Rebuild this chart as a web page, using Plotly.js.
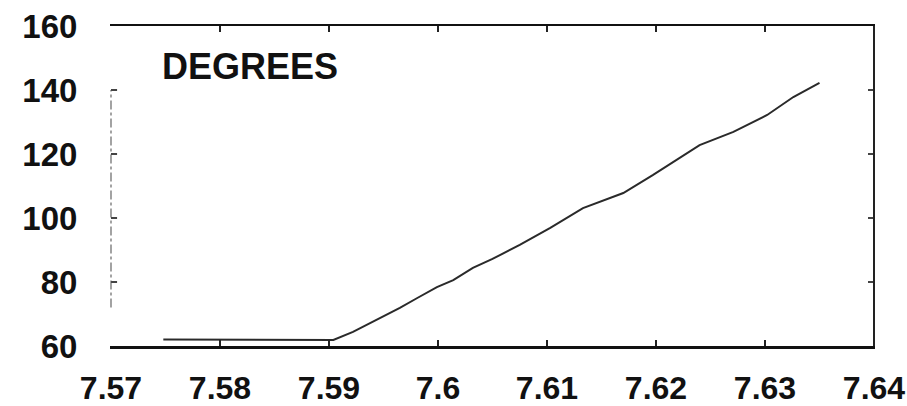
<!DOCTYPE html>
<html>
<head>
<meta charset="utf-8">
<script src="https://cdn.plot.ly/plotly-3.0.1.min.js"></script>
<style>
html,body{margin:0;padding:0;background:#fff;}
#chart{width:907px;height:406px;}
</style>
</head>
<body>
<div id="chart"></div>
<script>
// Data
const xValues = [7.5748, 7.5800, 7.5850, 7.5904, 7.5922, 7.5938, 7.5953, 7.5965, 7.5981, 7.5999, 7.6014, 7.6032, 7.6050, 7.6075, 7.6103, 7.6133, 7.6170, 7.6197, 7.6240, 7.6271, 7.6302, 7.6326, 7.6350];
const degrees = [62.0, 62.0, 62.0, 61.9, 64.4, 67.2, 69.7, 71.9, 75.0, 78.4, 80.6, 84.4, 87.2, 91.6, 96.9, 103.1, 107.8, 113.4, 122.8, 126.9, 132.2, 137.8, 142.2];
const xTickVals = [7.57, 7.58, 7.59, 7.60, 7.61, 7.62, 7.63, 7.64];
const xTickText = ["7.57", "7.58", "7.59", "7.6", "7.61", "7.62", "7.63", "7.64"];
const yTickVals = [60, 80, 100, 120, 140, 160];
const yTickText = ["60", "80", "100", "120", "140", "160"];
const seriesLabel = "DEGREES";
const leftDashRange = [72, 140];
const xRange = [7.57, 7.64];
const yRange = [60, 160];

const trace = {
  x: xValues,
  y: degrees,
  type: 'scatter',
  mode: 'lines',
  line: {color: '#2a2a2a', width: 2},
  hoverinfo: 'skip',
  showlegend: false
};

// inner tick marks on the left and bottom edges, placed through the axis scales
const tickShapes = [];
yTickVals.slice(1, -1).forEach(v => tickShapes.push({
  type: 'line', xref: 'paper', yref: 'y', x0: 0, x1: 0.008, y0: v, y1: v,
  line: {color: '#444444', width: 1.5}
}));
xTickVals.slice(1, -1).forEach(v => tickShapes.push({
  type: 'line', xref: 'x', yref: 'paper', x0: v, x1: v, y0: 0, y1: 0.018,
  line: {color: '#222222', width: 1.5}
}));

const layout = {
  width: 907,
  height: 406,
  margin: {l: 111, r: 33, t: 26, b: 60},
  paper_bgcolor: '#ffffff',
  plot_bgcolor: '#ffffff',
  font: {family: 'Liberation Sans, Arial, sans-serif', color: '#111111'},
  xaxis: {
    range: xRange,
    tickvals: xTickVals,
    ticktext: xTickText,
    showgrid: false,
    zeroline: false,
    showline: true,
    linecolor: '#111111',
    linewidth: 2.5,
    ticks: 'inside',
    ticklen: 6,
    tickwidth: 1.5,
    tickcolor: '#222222',
    mirror: 'ticks',
    ticklabelstandoff: 12,
    tickfont: {size: 32, weight: 'bold', color: '#111111'},
    automargin: false,
    fixedrange: true
  },
  yaxis: {
    range: yRange,
    tickvals: yTickVals,
    ticktext: yTickText,
    showgrid: false,
    zeroline: false,
    showline: true,
    linecolor: 'rgba(0,0,0,0)',
    linewidth: 1,
    ticks: 'inside',
    ticklen: 6,
    tickwidth: 1.5,
    tickcolor: '#444444',
    mirror: 'ticks',
    ticklabelstandoff: 26,
    tickfont: {size: 33, weight: 'bold', color: '#111111'},
    automargin: false,
    fixedrange: true
  },
  shapes: [
    {type: 'line', xref: 'paper', yref: 'y', x0: 0, x1: 0, y0: leftDashRange[0], y1: leftDashRange[1],
     line: {color: '#666666', width: 1.2, dash: 'dashdot'}},
    {type: 'line', xref: 'paper', yref: 'paper', x0: 1, x1: 1, y0: 0, y1: 1,
     line: {color: '#222222', width: 2}}
  ].concat(tickShapes),
  annotations: [
    {text: seriesLabel, xref: 'paper', yref: 'paper', x: 0.064, y: 0.875,
     xanchor: 'left', yanchor: 'middle', showarrow: false,
     font: {size: 36, weight: 'bold', color: '#111111'}}
  ]
};

Plotly.newPlot('chart', [trace], layout, {displayModeBar: false, staticPlot: true});
</script>
</body>
</html>
